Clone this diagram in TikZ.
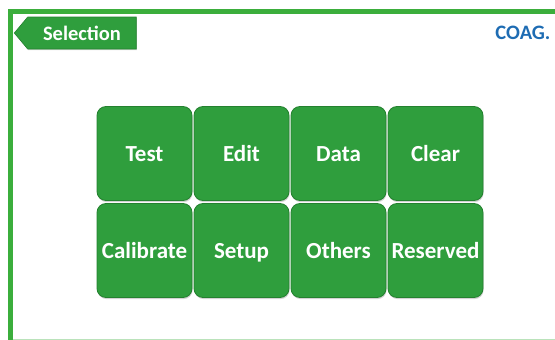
\documentclass[tikz,border=0pt]{standalone}
\usepackage{fontspec}
\usepackage{xcolor}
\usepackage{tikz}
\usetikzlibrary{positioning, shapes.symbols, shadows}

\newfontfamily\uifont{Carlito}
\definecolor{framegreen}{HTML}{3BAE3C}
\definecolor{btngreen}{HTML}{2F9E3D}
\definecolor{btnedge}{HTML}{24812F}
\definecolor{coagblue}{HTML}{1E6CB3}

\tikzset{
  btn/.style={rectangle, rounded corners=9pt, fill=btngreen, draw=btnedge, line width=0.8pt,
    minimum width=95pt, minimum height=94pt, text=white,
    text height=15pt, text depth=-1pt, inner sep=1pt,
    font=\uifont\bfseries\fontsize{23}{27}\selectfont,
    drop shadow={opacity=0.35, shadow xshift=0.6pt, shadow yshift=-1.6pt}},
  tab/.style={signal, signal to=west, signal pointer angle=100, fill=btngreen, draw=btnedge,
    line width=0.6pt, minimum width=122pt, minimum height=32pt, inner xsep=4pt, text=white,
    font=\uifont\bfseries\fontsize{20.5}{24}\selectfont,
    drop shadow={opacity=0.3, shadow xshift=0.5pt, shadow yshift=-1pt}}
}

\begin{document}
\begin{tikzpicture}[x=1pt, y=-1pt, node distance=97pt, on grid]
        \useasboundingbox (0,0) rectangle (555,340);

        % frame
        \draw[framegreen!35, line width=1pt] (10,339) -- (555,339);
        \draw[framegreen, line width=5pt] (10,340) -- (10,11) -- (555,11);

        % header
        \node[tab] (sel) at (82,33) {Selection};
        \node[text=coagblue, font=\uifont\bfseries\fontsize{20.5}{24}\selectfont, anchor=east] (coag) at (554,33) {COAG.};

        % buttons
        \node[btn] (test) at (144.5,153.5) {Test};
        \node[btn] (edit) [right=of test] {Edit};
        \node[btn] (data) [right=of edit] {Data};
        \node[btn] (clear) [right=of data] {Clear};
        \node[btn] (calib) [below=of test] {Calibrate};
        \node[btn] (setup) [right=of calib] {Setup};
        \node[btn] (others) [right=of setup] {Others};
        \node[btn] (reserved) [right=of others] {Reserved};

\end{tikzpicture}
\end{document}
